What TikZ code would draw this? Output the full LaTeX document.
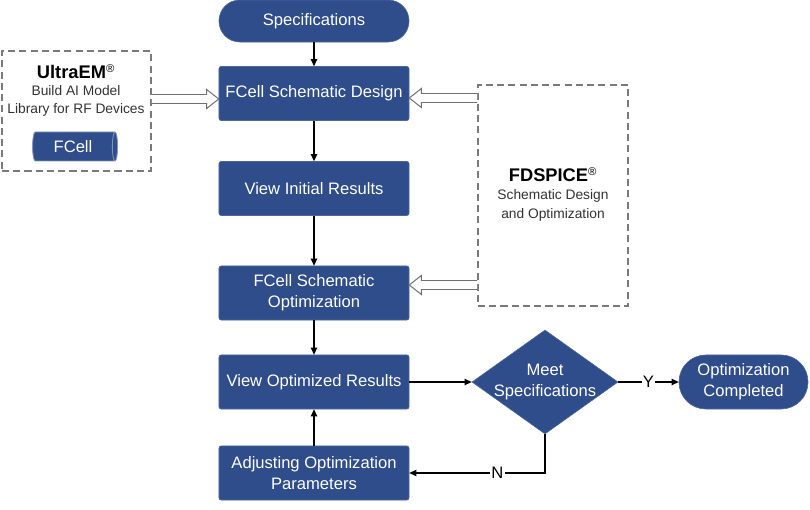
\documentclass[tikz,border=0pt]{standalone}
\usepackage{fontspec}
\setmainfont{Liberation Sans}
\usetikzlibrary{shapes.geometric,arrows.meta,calc}
\definecolor{bx}{HTML}{2F4D8A}
\definecolor{dashc}{HTML}{7A7A7A}
\definecolor{hol}{HTML}{707070}
\newcommand\harrow[3]{\draw[hollow] ($(#1)+(0,-4.5)$) -- ($(#2)+(-12*#3,-4.5)$) -- ($(#2)+(-12*#3,-9.5)$) -- (#2) -- ($(#2)+(-12*#3,9.5)$) -- ($(#2)+(-12*#3,4.5)$) -- ($(#1)+(0,4.5)$);}
\begin{document}
\begin{tikzpicture}[x=0.025cm,y=-0.025cm,
  font=\fontsize{11.8}{15}\selectfont,
  box/.style={fill=bx, draw=bx!85!white, text=white, rounded corners=1.5pt, minimum width=4.75cm, minimum height=1.35cm, align=center, inner sep=1pt},
  pill/.style={fill=bx, draw=bx!85!white, text=white, align=center, inner sep=1pt},
  dbox/.style={draw=dashc, line width=1.1pt, dash pattern=on 5pt off 3pt, minimum width=#1},
  arr/.style={-{Triangle[length=5pt,width=4.5pt]}, line width=0.8pt, black},
  hollow/.style={draw=hol, fill=white, line width=0.7pt, line join=miter},
  lab/.style={fill=white, inner sep=1pt, text=black}]
\useasboundingbox (0,0) rectangle (810,510);

% main column
\node[pill, rounded corners=0.52cm, minimum width=4.75cm, minimum height=1.05cm] (spec) at (314,21) {Specifications};
\node[box] (sd) at (314,93.5) {FCell Schematic Design};
\node[box] (vir) at (314,188.5) {View Initial Results};
\node[box] (opt) at (314,293) {FCell Schematic\\Optimization};
\node[box] (vor) at (314,382) {View Optimized Results};
\node[box] (adj) at (314,473) {Adjusting Optimization\\Parameters};

% decision
\node[diamond, fill=bx, draw=bx!85!white, minimum width=3.65cm, minimum height=2.6cm, inner sep=0pt] (dm) at (545,382) {};
\node[text=white, align=center] (dmt) at (dm.center) {Meet\\Specifications};
\node[pill, rounded corners=0.67cm, minimum width=3.225cm, minimum height=1.35cm] (done) at (743.5,382) {Optimization\\Completed};

% UltraEM box
\node[dbox=3.725cm, minimum height=3cm] (ultra) at (76.5,111) {};
\node[font=\fontsize{13}{15}\selectfont\bfseries] (ut) at (76,72) {UltraEM\textsuperscript{\fontsize{8}{8}\selectfont\textnormal{®}}};
\node[text=black!80, font=\fontsize{9.8}{13}\selectfont, align=center] (ul) at (76,101) {Build AI Model\\Library for RF Devices};
\node[cylinder, shape aspect=0.35, fill=bx, draw=bx!60!white, line width=0.6pt, text=white, minimum width=0.725cm, minimum height=2.125cm, inner sep=1pt] (fc) at (73,146.5) {FCell};

% FDSPICE box
\node[dbox=3.75cm, minimum height=5.525cm] (fd) at (553,195.5) {};
\node[font=\fontsize{13}{15}\selectfont\bfseries] (ft) at (553,175) {FDSPICE\textsuperscript{\fontsize{8}{8}\selectfont\textnormal{®}}};
\node[text=black!80, font=\fontsize{9.8}{13.5}\selectfont, align=center] (fl) at (553,205) {Schematic Design\\and Optimization};

% hollow arrows
\coordinate (h1s) at (ultra.east |- 0,99);
\coordinate (h1e) at (sd.west |- 0,99);
\harrow{h1s}{h1e}{1}
\coordinate (h2s) at (fd.west |- 0,98);
\coordinate (h2e) at (sd.east |- 0,98);
\harrow{h2s}{h2e}{-1}
\coordinate (h3s) at (fd.west |- 0,285);
\coordinate (h3e) at (opt.east |- 0,285);
\harrow{h3s}{h3e}{-1}

% connectors
\draw[arr] (spec) -- (sd);
\draw[arr] (sd) -- (vir);
\draw[arr] (vir) -- (opt);
\draw[arr] (opt) -- (vor);
\draw[arr] (adj) -- (vor);
\draw[arr] (vor) -- (dm);
\draw[arr] (dm.east) -- (done.west) node[lab, midway] {Y};
\draw[arr] (dm.south) |- (adj.east) node[lab, pos=0.676] {N};
\end{tikzpicture}
\end{document}
